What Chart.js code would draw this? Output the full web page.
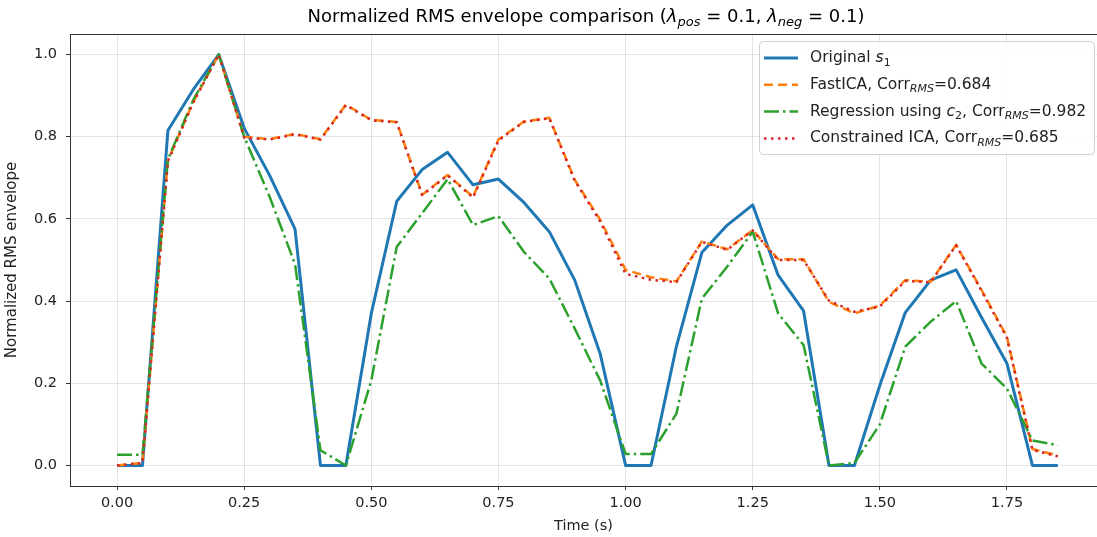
<!DOCTYPE html>
<html>
<head>
<meta charset="utf-8">
<script src="https://cdn.jsdelivr.net/npm/chart.js@4.4.1/dist/chart.umd.min.js"></script>
<style>
  html, body { margin: 0; padding: 0; background: #fff; }
  #wrap { width: 1097px; height: 537px; position: relative; }
</style>
</head>
<body>
<div id="wrap"><canvas id="envChart"></canvas></div>
<script>
// time axis (s), one RMS window every 0.05 s
const times = [0.00, 0.05, 0.10, 0.15, 0.20, 0.25, 0.30, 0.35, 0.40, 0.45,
               0.50, 0.55, 0.60, 0.65, 0.70, 0.75, 0.80, 0.85, 0.90, 0.95,
               1.00, 1.05, 1.10, 1.15, 1.20, 1.25, 1.30, 1.35, 1.40, 1.45,
               1.50, 1.55, 1.60, 1.65, 1.70, 1.75, 1.80, 1.85];

const originalS1 = [0.000, 0.000, 0.815, 0.915, 1.000, 0.821, 0.706, 0.575, 0.000, 0.000,
                    0.370, 0.643, 0.720, 0.762, 0.683, 0.697, 0.640, 0.569, 0.451, 0.272,
                    0.000, 0.000, 0.290, 0.518, 0.585, 0.634, 0.463, 0.376, 0.000, 0.000,
                    0.195, 0.372, 0.451, 0.476, 0.360, 0.248, 0.000, 0.000];

const fastICA = [0.000, 0.006, 0.742, 0.885, 1.000, 0.800, 0.794, 0.807, 0.794, 0.878,
                 0.841, 0.836, 0.659, 0.707, 0.654, 0.793, 0.837, 0.846, 0.695, 0.598,
                 0.476, 0.458, 0.448, 0.545, 0.526, 0.573, 0.502, 0.502, 0.398, 0.370,
                 0.389, 0.451, 0.447, 0.537, 0.427, 0.313, 0.040, 0.024];

const regressionC2 = [0.026, 0.026, 0.745, 0.890, 1.000, 0.800, 0.654, 0.490, 0.037, 0.000,
                      0.207, 0.532, 0.614, 0.697, 0.585, 0.607, 0.520, 0.455, 0.333, 0.207,
                      0.028, 0.028, 0.126, 0.406, 0.484, 0.569, 0.370, 0.293, 0.000, 0.006,
                      0.100, 0.289, 0.350, 0.400, 0.248, 0.187, 0.061, 0.049];

const constrainedICA = [0.000, 0.006, 0.740, 0.884, 1.000, 0.798, 0.793, 0.806, 0.793, 0.877,
                        0.840, 0.835, 0.658, 0.706, 0.652, 0.791, 0.836, 0.845, 0.693, 0.594,
                        0.466, 0.452, 0.446, 0.544, 0.525, 0.572, 0.500, 0.500, 0.401, 0.374,
                        0.387, 0.449, 0.446, 0.536, 0.425, 0.310, 0.038, 0.022];

const xTicks = [0.00, 0.25, 0.50, 0.75, 1.00, 1.25, 1.50, 1.75];
const yTicks = [0.0, 0.2, 0.4, 0.6, 0.8, 1.0];

const FONT = "'DejaVu Sans', sans-serif";
const C_BLUE = '#1f77b4', C_ORANGE = '#ff7f0e', C_GREEN = '#2ca02c', C_RED = '#d62728';

function pts(ys) {
  return times.map((t, i) => ({ x: t, y: ys[i] }));
}

// legend entries, each label is a list of [text, style] runs
// style: '' plain, 'i' italic, 'sub' subscript, 'isub' italic subscript
const legendItems = [
  { color: C_BLUE, width: 3, dash: [], label: [['Original ', ''], ['s', 'i'], ['1', 'sub']] },
  { color: C_ORANGE, width: 2.5, dash: [9, 5], label: [['FastICA, Corr', ''], ['RMS', 'isub'], ['=0.684', '']] },
  { color: C_GREEN, width: 2.5, dash: [15, 4, 2.5, 4], label: [['Regression using ', ''], ['c', 'i'], ['2', 'sub'], [', Corr', ''], ['RMS', 'isub'], ['=0.982', '']] },
  { color: C_RED, width: 2.5, dash: [2.5, 4.5], label: [['Constrained ICA, Corr', ''], ['RMS', 'isub'], ['=0.685', '']] }
];

const titleRuns = [['Normalized RMS envelope comparison (', ''], ['\u03bb', 'i'], ['pos', 'isub'],
                   [' = 0.1, ', ''], ['\u03bb', 'i'], ['neg', 'isub'], [' = 0.1)', '']];

function runFont(style, size) {
  const sub = style === 'sub' || style === 'isub';
  const it = style === 'i' || style === 'isub';
  return (it ? 'oblique ' : '') + (sub ? Math.round(size * 0.72) : size) + 'px ' + FONT;
}

function runsWidth(ctx, runs, size) {
  let w = 0;
  runs.forEach(([t, s]) => { ctx.font = runFont(s, size); w += ctx.measureText(t).width; });
  return w;
}

function drawRuns(ctx, runs, x, y, size) {
  ctx.textBaseline = 'middle';
  ctx.textAlign = 'left';
  runs.forEach(([t, s]) => {
    ctx.font = runFont(s, size);
    const dy = (s === 'sub' || s === 'isub') ? size * 0.3 : 0;
    ctx.fillText(t, x, y + dy);
    x += ctx.measureText(t).width;
  });
}

const decorations = {
  id: 'decorations',
  afterDraw(chart) {
    const ctx = chart.ctx;
    const area = chart.chartArea;
    ctx.save();

    // top frame line (right edge lies past the canvas)
    ctx.strokeStyle = '#333';
    ctx.lineWidth = 1;
    ctx.beginPath();
    ctx.moveTo(area.left, area.top + 0.5);
    ctx.lineTo(area.right + 1, area.top + 0.5);
    ctx.stroke();

    // title
    ctx.fillStyle = '#000';
    const tSize = 18;
    const tw = runsWidth(ctx, titleRuns, tSize);
    drawRuns(ctx, titleRuns, 586 - tw / 2, 17, tSize);

    // legend box
    const bx = 759, by = 41, bw = 335, bh = 113;
    ctx.fillStyle = 'rgba(255,255,255,0.85)';
    ctx.strokeStyle = '#d0d0d0';
    ctx.beginPath();
    ctx.roundRect(bx + 0.5, by + 0.5, bw, bh, 4);
    ctx.fill();
    ctx.stroke();

    legendItems.forEach((item, i) => {
      const y = 58 + i * 26.8;
      ctx.strokeStyle = item.color;
      ctx.lineWidth = item.width;
      ctx.setLineDash(item.dash);
      ctx.beginPath();
      ctx.moveTo(764, y);
      ctx.lineTo(798, y);
      ctx.stroke();
      ctx.setLineDash([]);
      ctx.fillStyle = '#222';
      drawRuns(ctx, item.label, 810, y, 15.5);
    });
    ctx.restore();
  }
};

new Chart(document.getElementById('envChart'), {
  type: 'line',
  data: {
    datasets: [
      { data: pts(originalS1), borderColor: C_BLUE, borderWidth: 3, order: 3 },
      { data: pts(fastICA), borderColor: C_ORANGE, borderWidth: 2.5, borderDash: [9, 5], order: 2 },
      { data: pts(regressionC2), borderColor: C_GREEN, borderWidth: 2.5, borderDash: [15, 4, 2.5, 4], order: 1 },
      { data: pts(constrainedICA), borderColor: C_RED, borderWidth: 2.5, borderDash: [2.5, 4.5], order: 0 }
    ]
  },
  options: {
    responsive: true,
    maintainAspectRatio: false,
    animation: false,
    layout: { padding: { top: 34, right: 0, left: 0, bottom: 0 } },
    elements: {
      point: { radius: 0 },
      line: { tension: 0, fill: false, borderCapStyle: 'butt', borderJoinStyle: 'round' }
    },
    plugins: { legend: { display: false }, tooltip: { enabled: false }, title: { display: false } },
    scales: {
      x: {
        type: 'linear',
        min: -0.0925,
        max: 1.927,
        afterBuildTicks: s => { s.ticks = xTicks.map(v => ({ value: v })); },
        afterFit: s => { s.height = 51; },
        ticks: { font: { family: FONT, size: 14.5 }, color: '#222', padding: 5, maxRotation: 0,
                 callback: v => v.toFixed(2) },
        grid: { color: 'rgba(0,0,0,0.1)', tickColor: '#333', tickLength: 4 },
        border: { display: true, color: '#333', width: 1 },
        title: { display: true, text: 'Time (s)', font: { family: FONT, size: 14.5 }, color: '#222',
                 padding: { top: 0, bottom: 2 } }
      },
      y: {
        type: 'linear',
        min: -0.05,
        max: 1.05,
        afterBuildTicks: s => { s.ticks = yTicks.map(v => ({ value: v })); },
        afterFit: s => { s.width = 70; },
        ticks: { font: { family: FONT, size: 14.5 }, color: '#222', padding: 9,
                 callback: v => v.toFixed(1) },
        grid: { color: 'rgba(0,0,0,0.1)', tickColor: '#333', tickLength: 4 },
        border: { display: true, color: '#333', width: 1 },
        title: { display: true, text: 'Normalized RMS envelope', font: { family: FONT, size: 15 },
                 color: '#222', padding: { top: 3, bottom: 0 } }
      }
    }
  },
  plugins: [decorations]
});
</script>
</body>
</html>
